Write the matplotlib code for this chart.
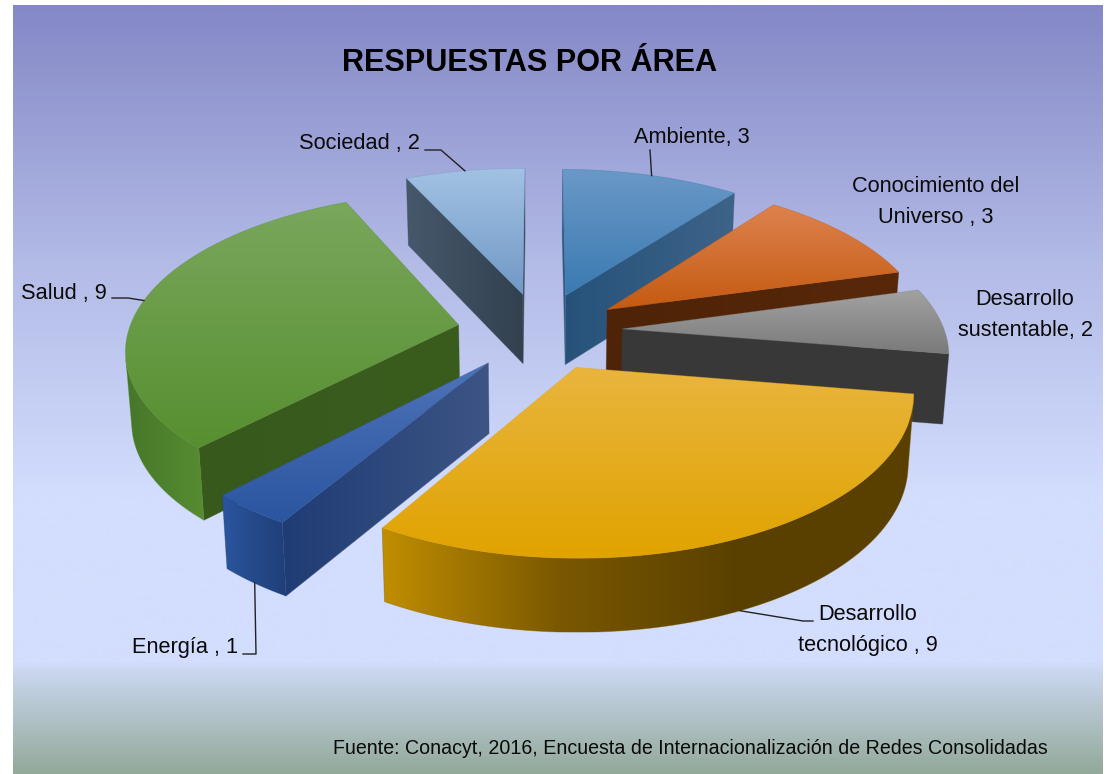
import numpy as np
import matplotlib
matplotlib.use("Agg")
import matplotlib.pyplot as plt
from matplotlib.colors import LinearSegmentedColormap
from matplotlib.patches import Polygon

plt.rcParams['font.family'] = ['Liberation Sans', 'DejaVu Sans']

# data
areas = ["Ambiente", "Conocimiento del Universo", "Desarrollo sustentable",
         "Desarrollo tecnológico", "Energía", "Salud", "Sociedad"]
respuestas = [3, 3, 2, 9, 1, 9, 2]
title = "RESPUESTAS POR ÁREA"
source = "Fuente: Conacyt, 2016, Encuesta de Internacionalización de Redes Consolidadas"

# colours per slice: top face (upper, lower), cut face (left, right), rim (left to right)
top_cols = [("#6a99c6", "#3b7ab2"), ("#dd824e", "#c55a11"), ("#a2a2a2", "#7a7a7a"),
            ("#e9b53e", "#e0a300"), ("#4f74b8", "#2a55a0"), ("#7aa75c", "#578f30"),
            ("#a2c2e3", "#7199c6")]
cut_cols = [("#265279", "#3e6389"), ("#4e2307", "#582809"), ("#383838", "#383838"),
            ("#5c4200", "#5c4200"), ("#1f3c74", "#3d5585"), ("#38591c", "#3a5d1e"),
            ("#46586c", "#33414f")]
rim_cols = [("#3e6389", "#3e6389"), ("#582809", "#582809"), ("#3a3a3a", "#3a3a3a"),
            ("#c08e00", "#7a5800", "#5a4000", "#5a4000"), ("#2a559e", "#1f3f78"),
            ("#46772a", "#578c32"), ("#46586c", "#46586c")]

# camera / layout of the 3d pie, in pixels
cx, cy = 540, 331
ax_x, ax_y = 326, 153
persp = 0.14
persp_x = 0.008
depth = 70
radius = 1.0
explode = 0.254
n_arc = 120


def project(x, y, z):
    s = 1 / (1 + persp * y + persp_x * x)
    sx = cx + ax_x * x * s
    sy = cy - ax_y * y * s
    if z:
        sx = cx + (sx - cx) * 0.985
        sy = sy + depth * s ** 0.3
    return sx, sy


def area(xs, ys):
    return 0.5 * np.sum(xs * np.roll(ys, -1) - np.roll(xs, -1) * ys)


def gradient_fill(ax, xs, ys, cols, vertical, zorder):
    cmap = LinearSegmentedColormap.from_list("g", list(cols))
    grad = np.linspace(0, 1, 256)
    grad = grad.reshape(-1, 1) if vertical else grad.reshape(1, -1)
    im = ax.imshow(grad, cmap=cmap, extent=(xs.min(), xs.max(), ys.max(), ys.min()),
                   aspect="auto", zorder=zorder, interpolation="bilinear")
    patch = Polygon(np.column_stack([xs, ys]), closed=True, transform=ax.transData,
                    facecolor="none", edgecolor="none")
    ax.add_patch(patch)
    im.set_clip_path(patch)
    # soft edge so the clipped image is not jagged
    ax.add_patch(Polygon(np.column_stack([xs, ys]), closed=True, facecolor="none",
                         edgecolor=cols[1], lw=0.6, alpha=0.4, zorder=zorder))


fig = plt.figure(figsize=(11.16, 7.74), dpi=100)
ax = fig.add_axes([0, 0, 1, 1])

# background
bg_cmap = LinearSegmentedColormap.from_list("bg", [
    (0.0, "#8488c6"), (0.33, "#b2bae6"), (0.64, "#d3ddfd"), (0.855, "#d3ddfd"),
    (0.87, "#c9d6ee"), (1.0, "#93a999")])
ax.imshow(np.linspace(0, 1, 768).reshape(-1, 1), cmap=bg_cmap, extent=(13, 1103, 774, 5),
          aspect="auto", zorder=0)

total = sum(respuestas)
edges = np.cumsum([0] + respuestas) / total * 2 * np.pi
mids = (edges[:-1] + edges[1:]) / 2

# back slices first
order = sorted(range(len(areas)), key=lambda i: -np.cos(mids[i]))
z = 1
for i in order:
    a0, a1 = edges[i], edges[i + 1]
    ox, oy = explode * np.sin(mids[i]), explode * np.cos(mids[i])
    th = np.linspace(a0, a1, n_arc)
    px = ox + radius * np.sin(th)
    py = oy + radius * np.cos(th)
    tx, ty = project(px, py, 0)
    bx, by = project(px, py, 1)
    ax0, ay0 = project(ox, oy, 0)
    bx0, by0 = project(ox, oy, 1)

    # cut faces, only those turned to the viewer
    for j, sign in ((0, -1), (-1, 1)):
        fx = np.array([ax0, tx[j], bx[j], bx0])
        fy = np.array([ay0, ty[j], by[j], by0])
        if sign * area(fx, fy) < 0:
            continue
        gradient_fill(ax, fx, fy, cut_cols[i], False, z)
        z += 1

    # rim, the part of the arc that faces the viewer
    seg = np.array([area(np.array([tx[k], tx[k + 1], bx[k + 1], bx[k]]),
                         np.array([ty[k], ty[k + 1], by[k + 1], by[k]]))
                    for k in range(n_arc - 1)])
    vis = np.where(seg < 0)[0]
    if len(vis) > 0:
        k0, k1 = vis[0], vis[-1] + 2
        fx = np.concatenate([tx[k0:k1], bx[k0:k1][::-1]])
        fy = np.concatenate([ty[k0:k1], by[k0:k1][::-1]])
        gradient_fill(ax, fx, fy, rim_cols[i], False, z)
        z += 1

    # top face
    fx = np.concatenate([[ax0], tx])
    fy = np.concatenate([[ay0], ty])
    gradient_fill(ax, fx, fy, top_cols[i], True, z)
    z += 1

ax.set_xlim(0, 1116)
ax.set_ylim(774, 0)
ax.axis("off")

# labels with their leader lines
lab = dict(fontsize=15.7, color="#0a0a0a", zorder=z + 2)
ax.text(530, 63, title, fontsize=22.1, fontweight="bold", ha="center", va="center",
        color="black", zorder=z + 2)
ax.text(299, 144, "Sociedad , 2", ha="left", va="center", **lab)
ax.text(692, 137, "Ambiente, 3", ha="center", va="center", **lab)
ax.text(936, 202, "Conocimiento del\nUniverso , 3", ha="center", va="center", linespacing=1.6, **lab)
ax.text(1025, 315, "Desarrollo\nsustentable, 2", ha="center", va="center", linespacing=1.6, **lab)
ax.text(21, 294, "Salud , 9", ha="left", va="center", **lab)
ax.text(132, 648, "Energía , 1", ha="left", va="center", **lab)
ax.text(868, 630, "Desarrollo\ntecnológico , 9", ha="center", va="center", linespacing=1.6, **lab)
ax.text(1048, 749, source, ha="right", va="center", fontsize=14.1, color="#0a0a0a", zorder=z + 2)


def anchor(i, z_level):
    ox, oy = explode * np.sin(mids[i]), explode * np.cos(mids[i])
    px = ox + radius * np.sin(mids[i])
    py = oy + radius * np.cos(mids[i])
    return project(px, py, z_level)


leaders = [(6, 0, [(441, 150), (425, 150)]), (0, 0, [(650, 150)]),
           (5, 0, [(128, 298), (112, 298)]), (4, 1, [(256, 654), (243, 654)]),
           (3, 1, [(803, 621), (813, 621)])]
for i, level, pts in leaders:
    a = anchor(i, level)
    xs = [a[0]] + [p[0] for p in pts]
    ys = [a[1]] + [p[1] for p in pts]
    ax.plot(xs, ys, color="#222222", lw=1.0, zorder=z + 1)

fig.savefig("out.png", dpi=100)
